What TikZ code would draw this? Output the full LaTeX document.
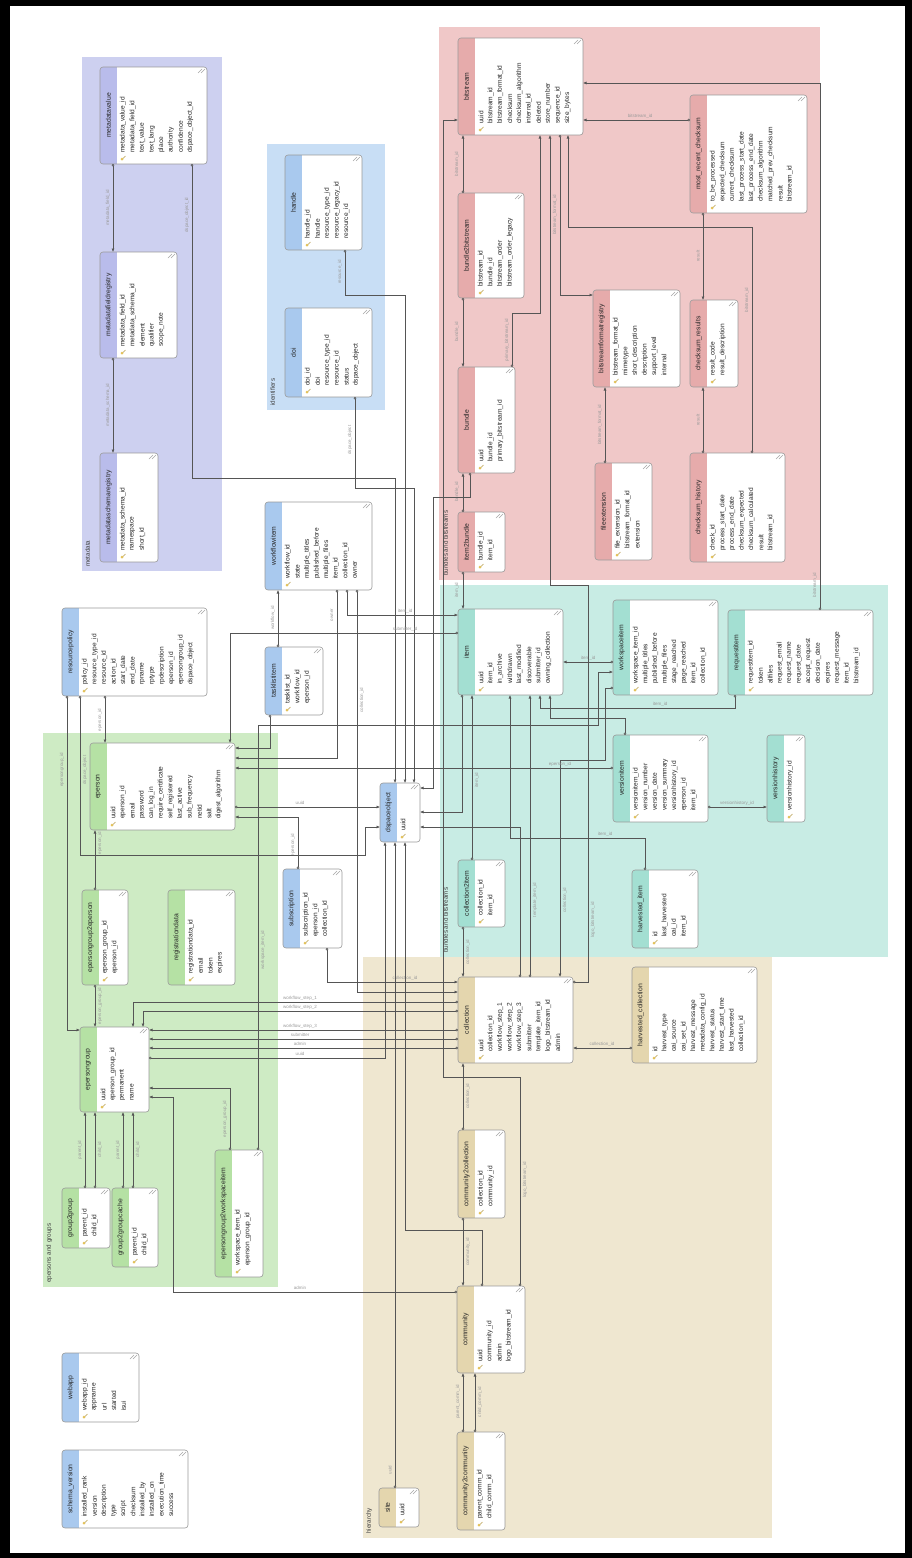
\documentclass[tikz,border=0pt]{standalone}
\usepackage{fontspec}
\setmainfont{Liberation Sans}
\usetikzlibrary{arrows.meta,fit}
\definecolor{mdbg}{HTML}{CDD0F0}
\definecolor{mdhd}{HTML}{B9BCEB}
\definecolor{idbg}{HTML}{C8DEF5}
\definecolor{idhd}{HTML}{A9C9EE}
\definecolor{bbbg}{HTML}{F0C8C8}
\definecolor{bbhd}{HTML}{E6ABAB}
\definecolor{itbg}{HTML}{C8ECE4}
\definecolor{ithd}{HTML}{A3DFD2}
\definecolor{hibg}{HTML}{EFE7D0}
\definecolor{hihd}{HTML}{E4D6AE}
\definecolor{epbg}{HTML}{CEEBC4}
\definecolor{ephd}{HTML}{B5E1A4}
\definecolor{tblbord}{HTML}{9A9A9A}
\definecolor{linec}{HTML}{555555}
\definecolor{lblc}{HTML}{9A9A9A}
\definecolor{keyc}{HTML}{E3C25A}

% #1 name #2 x1 #3 y1 #4 x2 #5 y2 #6 header colour #7 title #8 fields
\newcommand{\tbl}[8]{%
  \pgfmathsetmacro{\hx}{#2+17}%
  \pgfmathsetmacro{\cy}{(#3+#5)/2}%
  \pgfmathsetmacro{\fy}{#5-11}%
  \pgfmathsetmacro{\ky}{#5-5}%
  \begin{scope}
    \clip[rounded corners=3pt] (#2,#3) rectangle (#4,#5);
    \fill[white] (#2,#3) rectangle (#4,#5);
    \fill[#6] (#2,#3) rectangle (\hx,#5);
  \end{scope}
  \draw[tblline, rounded corners=3pt] (#2,#3) rectangle (#4,#5);
  \node[fit={(#2,#3) (#4,#5)}, inner sep=0pt, outer sep=0pt] (#1) {};
  \node[ttl, rotate=90] (#1-t) at (#2+8.5,\cy) {\detokenize{#7}};
  \foreach \f [count=\i] in {#8} {
    \pgfmathsetmacro{\fx}{\hx+6+(\i-1)*9.6}
    \node[fld, rotate=90, anchor=west] (#1-f\i) at (\fx,\fy) {\expandafter\detokenize\expandafter{\f}};
  }
  \pgfmathsetmacro{\kx}{\hx+6}%
  \fill[keyc] (\kx-1,\ky) circle (1.5);
  \draw[keyc!80!black, line width=0.5pt] (\kx,\ky-0.5) -- (\kx+2.5,\ky-3);
  \draw[gray!70, line width=0.4pt] (#4-9,#3+6) -- (#4-5,#3+2) (#4-6,#3+6) -- (#4-2,#3+2);
}
\newcommand{\lbl}[4]{\node[lbl,rotate=90] (#1) at (#2,#3) {\detokenize{#4}};}
\newcommand{\lblh}[4]{\node[lbl] (#1) at (#2,#3) {\detokenize{#4}};}

\begin{document}
\begin{tikzpicture}[x=1pt,y=-1pt,
  tblline/.style={draw=tblbord, line width=0.6pt},
  ttl/.style={font=\fontsize{6.8}{7}\selectfont, text=black!85, inner sep=0pt},
  fld/.style={font=\fontsize{6.6}{7}\selectfont, text=black!85, inner sep=0pt},
  lbl/.style={font=\fontsize{4.5}{5}\selectfont, text=lblc, inner sep=0.5pt},
  grp/.style={font=\fontsize{6.3}{7}\selectfont, text=black!75, inner sep=0pt},
  fk/.style={draw=linec, line width=0.55pt, {Circle[open,length=2.6pt,width=2.6pt]}-{Latex[length=3.5pt,width=3pt]}}]

\useasboundingbox (0,0) rectangle (912,1558);
\fill[black] (0,0) rectangle (912,1558);
\fill[white] (10,6) rectangle (905,1553);

% ---------- groups ----------
\fill[mdbg] (82,57) rectangle (222,571);
\fill[idbg] (267,144) rectangle (385,410);
\fill[bbbg] (439,27) rectangle (820,580);
\fill[itbg] (440,585) rectangle (888,957);
\fill[hibg] (363,957) rectangle (772,1538);
\fill[epbg] (43,733) rectangle (278,1287);
\node[grp, rotate=90, anchor=north west] (gmd) at (85,567) {metadata};
\node[grp, rotate=90, anchor=north west] (gid) at (270,406) {identifiers};
\node[grp, rotate=90, anchor=north west] (gbb) at (443,576) {bundles and bitstreams};
\node[grp, rotate=90, anchor=north west] (git) at (443,953) {bundles and bitstreams};
\node[grp, rotate=90, anchor=north west] (ghi) at (366,1534) {hierarchy};
\node[grp, rotate=90, anchor=north west] (gep) at (46,1283) {epersons and groups};

% ---------- tables ----------
\tbl{mdv}{100}{67}{207}{164}{mdhd}{metadatavalue}{metadata_value_id,metadata_field_id,text_value,text_lang,place,authority,confidence,dspace_object_id}
\tbl{mfr}{100}{252}{177}{358}{mdhd}{metadatafieldregistry}{metadata_field_id,metadata_schema_id,element,qualifier,scope_note}
\tbl{msr}{100}{453}{158}{562}{mdhd}{metadataschemaregistry}{metadata_schema_id,namespace,short_id}
\tbl{handle}{285}{155}{362}{250}{idhd}{handle}{handle_id,handle,resource_type_id,resource_legacy_id,resource_id}
\tbl{doi}{285}{308}{372}{397}{idhd}{doi}{doi_id,doi,resource_type_id,resource_id,status,dspace_object}
\tbl{bs}{458}{38}{583}{135}{bbhd}{bitstream}{uuid,bitstream_id,bitstream_format_id,checksum,checksum_algorithm,internal_id,deleted,store_number,sequence_id,size_bytes}
\tbl{b2b}{458}{193}{524}{298}{bbhd}{bundle2bitstream}{bitstream_id,bundle_id,bitstream_order,bitstream_order_legacy}
\tbl{bundle}{458}{367}{515}{473}{bbhd}{bundle}{uuid,bundle_id,primary_bitstream_id}
\tbl{i2b}{458}{512}{505}{572}{bbhd}{item2bundle}{bundle_id,item_id}
\tbl{bfr}{593}{290}{680}{387}{bbhd}{bitstreamformatregistry}{bitstream_format_id,mimetype,short_description,description,support_level,internal}
\tbl{mrc}{690}{95}{807}{213}{bbhd}{most_recent_checksum}{to_be_processed,expected_checksum,current_checksum,last_process_start_date,last_process_end_date,checksum_algorithm,matched_prev_checksum,result,bitstream_id}
\tbl{cres}{690}{300}{738}{387}{bbhd}{checksum_results}{result_code,result_description}
\tbl{fext}{595}{463}{652}{560}{bbhd}{fileextension}{file_extension_id,bitstream_format_id,extension}
\tbl{chist}{690}{453}{785}{562}{bbhd}{checksum_history}{check_id,process_start_date,process_end_date,checksum_expected,checksum_calculated,result,bitstream_id}
\tbl{item}{458}{609}{563}{695}{ithd}{item}{uuid,item_id,in_archive,withdrawn,last_modified,discoverable,submitter_id,owning_collection}
\tbl{wsi}{613}{600}{718}{695}{ithd}{workspaceitem}{workspace_item_id,multiple_titles,published_before,multiple_files,stage_reached,page_reached,item_id,collection_id}
\tbl{reqi}{728}{610}{873}{695}{ithd}{requestitem}{requestitem_id,token,allfiles,request_email,request_name,request_date,accept_request,decision_date,expires,request_message,item_id,bitstream_id}
\tbl{veri}{613}{735}{708}{822}{ithd}{versionitem}{versionitem_id,version_number,version_date,version_summary,versionhistory_id,eperson_id,item_id}
\tbl{verh}{767}{735}{805}{822}{ithd}{versionhistory}{versionhistory_id}
\tbl{hvi}{632}{870}{698}{948}{ithd}{harvested_item}{id,last_harvested,oai_id,item_id}
\tbl{c2i}{458}{860}{505}{927}{ithd}{collection2item}{collection_id,item_id}
\tbl{coll}{458}{977}{573}{1063}{hihd}{collection}{uuid,collection_id,workflow_step_1,workflow_step_2,workflow_step_3,submitter,template_item_id,logo_bitstream_id,admin}
\tbl{hvc}{632}{967}{757}{1063}{hihd}{harvested_collection}{id,harvest_type,oai_source,oai_set_id,harvest_message,metadata_config_id,harvest_status,harvest_start_time,last_harvested,collection_id}
\tbl{c2c}{458}{1130}{505}{1218}{hihd}{community2collection}{collection_id,community_id}
\tbl{comm}{457}{1286}{525}{1373}{hihd}{community}{uuid,community_id,admin,logo_bitstream_id}
\tbl{cc}{457}{1432}{505}{1530}{hihd}{community2community}{parent_comm_id,child_comm_id}
\tbl{site}{379}{1488}{419}{1527}{hihd}{site}{uuid}
\tbl{ep}{90}{743}{235}{830}{ephd}{eperson}{uuid,eperson_id,email,password,can_log_in,require_certificate,self_registered,last_active,sub_frequency,netid,salt,digest_algorithm}
\tbl{eg2e}{82}{890}{128}{985}{ephd}{epersongroup2eperson}{eperson_group_id,eperson_id}
\tbl{regd}{168}{890}{235}{985}{ephd}{registrationdata}{registrationdata_id,email,token,expires}
\tbl{eg}{80}{1027}{149}{1112}{ephd}{epersongroup}{uuid,eperson_group_id,permanent,name}
\tbl{g2g}{62}{1188}{110}{1248}{ephd}{group2group}{parent_id,child_id}
\tbl{g2gc}{112}{1188}{158}{1267}{ephd}{group2groupcache}{parent_id,child_id}
\tbl{eg2w}{215}{1150}{263}{1277}{ephd}{epersongroup2workspaceitem}{workspace_item_id,eperson_group_id}
\tbl{rp}{62}{608}{207}{696}{idhd}{resourcepolicy}{policy_id,resource_type_id,resource_id,action_id,start_date,end_date,rpname,rptype,rpdescription,eperson_id,epersongroup_id,dspace_object}
\tbl{tli}{265}{647}{323}{715}{idhd}{tasklistitem}{tasklist_id,workflow_id,eperson_id}
\tbl{wfi}{265}{502}{372}{590}{idhd}{workflowitem}{workflow_id,state,multiple_titles,published_before,multiple_files,item_id,collection_id,owner}
\tbl{sub}{283}{869}{342}{948}{idhd}{subscription}{subscription_id,eperson_id,collection_id}
\tbl{dso}{380}{783}{420}{842}{idhd}{dspaceobject}{uuid}
\tbl{webapp}{62}{1353}{139}{1422}{idhd}{webapp}{webapp_id,appname,url,started,isui}
\tbl{schv}{62}{1450}{188}{1528}{idhd}{schema_version}{installed_rank,version,description,type,script,checksum,installed_by,installed_on,execution_time,success}

% ---------- connectors ----------
% metadata
\draw[fk] (113,0 |- mdv.south) -- (113,0 |- mfr.north);
\lbl{l1}{108}{208}{metadata_field_id}
\draw[fk] (113,0 |- mfr.south) -- (113,0 |- msr.north);
\lbl{l2}{108}{405}{metadata_schema_id}
\draw[fk] (192,0 |- mdv.south) -- (192,478) -- (395,478) -- (395,0 |- dso.north);
\lbl{l3}{187}{215}{dspace_object_id}
% identifiers
\draw[fk] (345,0 |- handle.south) -- (345,295) -- (405,295) -- (405,0 |- dso.north);
\lbl{l4}{340}{272}{resource_id}
\draw[fk] (355,0 |- doi.south) -- (355,488) -- (414,488) -- (414,0 |- dso.north);
\lbl{l5}{350}{440}{dspace_object}
% bundles and bitstreams
\draw[fk] (463,0 |- b2b.north) -- (463,0 |- bs.south);
\lbl{l6}{457}{164}{bitstream_id}
\draw[fk] (463,0 |- b2b.south) -- (463,0 |- bundle.north);
\lbl{l7}{457}{332}{bundle_id}
\draw[fk] (463,0 |- i2b.north) -- (463,0 |- bundle.south);
\lbl{l8}{457}{492}{bundle_id}
\draw[fk] (463,0 |- i2b.south) -- (463,0 |- item.north);
\lbl{l9}{457}{590}{item_id}
\draw[fk] (512,0 |- bundle.north) -- (512,313) -- (540,313) -- (540,0 |- bs.south);
\lbl{l10}{507}{340}{primary_bitstream_id}
\draw[fk] (470,0 |- bundle.south) -- (470,497) -- (433,497) -- (433,788) -- (dso.east |- 0,788);
\draw[fk] (560,0 |- bs.south) -- (560,295) -- (bfr.west |- 0,295);
\lbl{l11}{555}{215}{bitstream_format_id}
\draw[fk] (752,0 |- chist.north) -- (752,227) -- (568,227) -- (568,0 |- bs.south);
\lbl{l12}{747}{300}{bitstream_id}
\draw[fk] (mrc.west |- 0,120) -- (bs.east |- 0,120);
\lblh{l13}{640}{116}{bitstream_id}
\draw[fk] (820,0 |- reqi.north) -- (820,83) -- (bs.east |- 0,83);
\lbl{l14}{815}{585}{bitstream_id}
\draw[fk] (703,0 |- mrc.south) -- (703,0 |- cres.north);
\lbl{l15}{698}{256}{result}
\draw[fk] (703,0 |- chist.north) -- (703,0 |- cres.south);
\lbl{l16}{698}{420}{result}
\draw[fk] (605,0 |- fext.north) -- (605,0 |- bfr.south);
\lbl{l17}{600}{425}{bitstream_format_id}
% workflow and tasks
\draw[fk] (347,0 |- wfi.south) -- (347,615) -- (item.west |- 0,615);
\lblh{l18}{405}{611}{item_id}
\draw[fk] (item.west |- 0,633) -- (230,633) -- (230,0 |- ep.north);
\lblh{l19}{405}{629}{submitter_id}
\draw[fk] (337,0 |- wfi.south) -- (337,758) -- (ep.east |- 0,758);
\lbl{l20}{332}{615}{owner}
\draw[fk] (357,0 |- wfi.south) -- (357,992) -- (coll.west |- 0,992);
\lbl{l21}{362}{700}{collection_id}
\draw[fk] (278,0 |- tli.north) -- (278,0 |- wfi.south);
\lbl{l22}{273}{618}{workflow_id}
\draw[fk] (270,0 |- tli.south) -- (270,748) -- (ep.east |- 0,748);
\draw[fk] (298,0 |- sub.north) -- (298,817) -- (ep.east |- 0,817);
\lbl{l23}{293}{845}{eperson_id}
\draw[fk] (327,0 |- sub.south) -- (327,982) -- (coll.west |- 0,982);
\lblh{l24}{405}{978}{collection_id}
% epersons
\draw[fk] (105,0 |- rp.south) -- (105,0 |- ep.north);
\lbl{l25}{100}{720}{eperson_id}
\draw[fk] (67,0 |- rp.south) -- (67,1030) -- (eg.west |- 0,1030);
\lbl{l26}{62}{770}{epersongroup_id}
\draw[fk] (80,0 |- rp.south) -- (80,855) -- (365,855) -- (365,827) -- (dso.west |- 0,827);
\lbl{l27}{85}{770}{dspace_object}
\draw[fk] (ep.east |- 0,807) -- (dso.west |- 0,807);
\lblh{l28}{300}{803}{uuid}
\draw[fk] (95,0 |- eg2e.north) -- (95,0 |- ep.south);
\lbl{l29}{100}{843}{eperson_id}
\draw[fk] (95,0 |- eg2e.south) -- (95,0 |- eg.north);
\lbl{l30}{100}{1006}{eperson_group_id}
\draw[fk] (85,0 |- g2g.north) -- (85,0 |- eg.south);
\lbl{l31}{80}{1150}{parent_id}
\draw[fk] (95,0 |- g2g.north) -- (95,0 |- eg.south);
\lbl{l32}{100}{1150}{child_id}
\draw[fk] (123,0 |- g2gc.north) -- (123,0 |- eg.south);
\lbl{l33}{118}{1150}{parent_id}
\draw[fk] (133,0 |- g2gc.north) -- (133,0 |- eg.south);
\lbl{l34}{138}{1150}{child_id}
\draw[fk] (coll.west |- 0,1002) -- (133,1002) -- (133,0 |- eg.north);
\lblh{l35}{300}{998}{workflow_step_1}
\draw[fk] (coll.west |- 0,1011) -- (143,1011) -- (143,0 |- eg.north);
\lblh{l36}{300}{1007}{workflow_step_2}
\draw[fk] (coll.west |- 0,1030) -- (eg.east |- 0,1030);
\lblh{l37}{300}{1026}{workflow_step_3}
\draw[fk] (coll.west |- 0,1039) -- (eg.east |- 0,1039);
\lblh{l38}{300}{1035}{submitter}
\draw[fk] (coll.west |- 0,1048) -- (eg.east |- 0,1048);
\lblh{l39}{300}{1044}{admin}
\draw[fk] (eg.east |- 0,1058) -- (385,1058) -- (385,0 |- dso.south);
\lblh{l40}{300}{1054}{uuid}
\draw[fk] (230,0 |- eg2w.north) -- (230,1088) -- (eg.east |- 0,1088);
\lbl{l41}{225}{1119}{eperson_group_id}
\draw[fk] (258,0 |- eg2w.north) -- (258,725) -- (598,725) -- (598,672) -- (wsi.west |- 0,672);
\lbl{l42}{263}{950}{workspace_item_id}
\draw[fk] (comm.west |- 0,1292) -- (173,1292) -- (173,1097) -- (eg.east |- 0,1097);
\lblh{l43}{300}{1288}{admin}
% items
\draw[fk] (wsi.west |- 0,662) -- (item.east |- 0,662);
\lblh{l44}{588}{658}{item_id}
\draw[fk] (wsi.west |- 0,688) -- (605,688) -- (605,760) -- (560,760) -- (560,0 |- coll.north);
\lbl{l45}{565}{900}{collection_id}
\draw[fk] (735,0 |- reqi.south) -- (735,708) -- (540,708) -- (540,0 |- item.south);
\lblh{l46}{660}{704}{item_id}
\draw[fk] (625,0 |- veri.north) -- (625,718) -- (550,718) -- (550,0 |- item.south);
\draw[fk] (veri.east |- 0,807) -- (verh.west |- 0,807);
\lblh{l47}{737}{803}{versionhistory_id}
\draw[fk] (veri.west |- 0,768) -- (ep.east |- 0,768);
\lblh{l48}{560}{764}{eperson_id}
\draw[fk] (645,0 |- hvi.north) -- (645,838) -- (510,838) -- (510,0 |- item.south);
\lblh{l49}{605}{834}{item_id}
\draw[fk] (hvc.west |- 0,1048) -- (coll.east |- 0,1048);
\lblh{l50}{602}{1044}{collection_id}
\draw[fk] (462,0 |- item.south) -- (462,812) -- (dso.east |- 0,812);
\draw[fk] (472,0 |- c2i.north) -- (472,0 |- item.south);
\lbl{l51}{477}{780}{item_id}
\draw[fk] (463,0 |- c2i.south) -- (463,0 |- coll.north);
\lbl{l52}{468}{952}{collection_id}
\draw[fk] (520,0 |- coll.north) -- (520,827) -- (dso.east |- 0,827);
\draw[fk] (530,0 |- coll.north) -- (530,0 |- item.south);
\lbl{l53}{535}{900}{template_item_id}
\draw[fk] (coll.east |- 0,982) -- (588,982) -- (588,585) -- (550,585) -- (550,0 |- bs.south);
\lbl{l54}{593}{920}{logo_bitstream_id}
% hierarchy
\draw[fk] (463,0 |- c2c.north) -- (463,0 |- coll.south);
\lbl{l55}{468}{1096}{collection_id}
\draw[fk] (463,0 |- c2c.south) -- (463,0 |- comm.north);
\lbl{l56}{468}{1252}{community_id}
\draw[fk] (463,0 |- cc.north) -- (463,0 |- comm.south);
\lbl{l57}{458}{1402}{parent_comm_id}
\draw[fk] (475,0 |- cc.north) -- (475,0 |- comm.south);
\lbl{l58}{480}{1402}{child_comm_id}
\draw[fk] (482,0 |- comm.north) -- (482,1230) -- (405,1230) -- (405,0 |- dso.south);
\draw[fk] (395,0 |- site.north) -- (395,0 |- dso.south);
\lbl{l59}{390}{1470}{uuid}
\draw[fk] (520,0 |- comm.north) -- (520,1077) -- (443,1077) -- (443,120) -- (bs.west |- 0,120);
\lbl{l60}{525}{1180}{logo_bitstream_id}
\end{tikzpicture}
\end{document}
